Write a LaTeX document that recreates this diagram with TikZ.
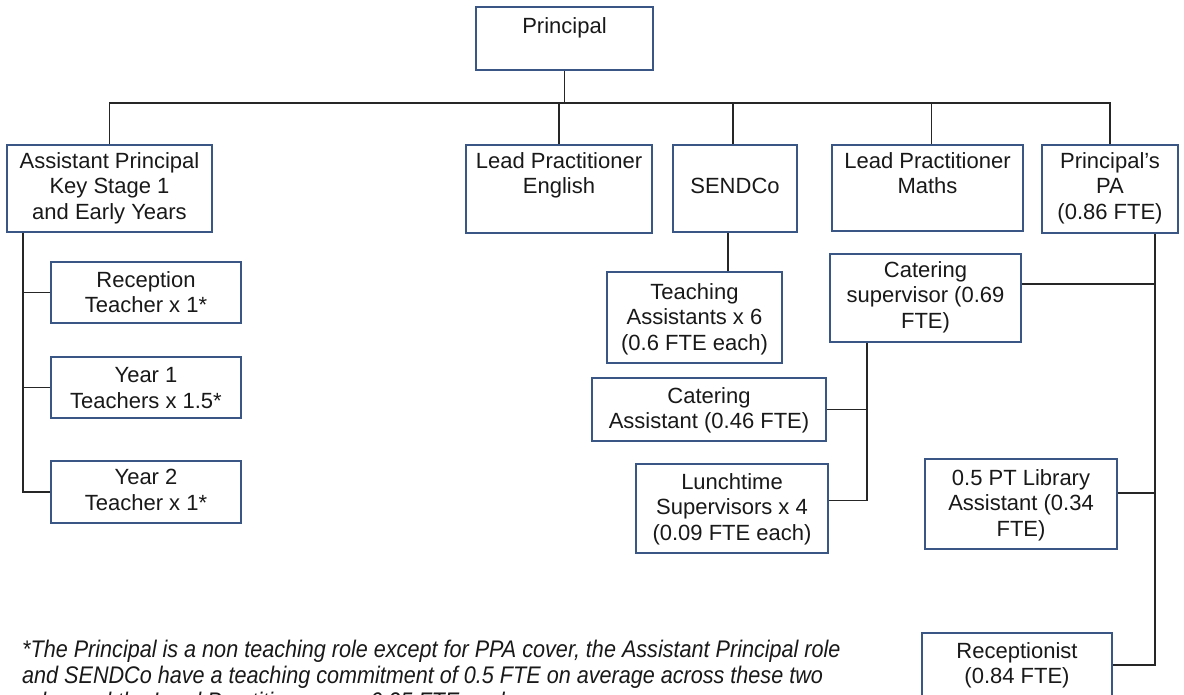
\documentclass[tikz,border=0pt]{standalone}
\usepackage{fontspec}
\setmainfont{Liberation Sans}
\newfontfamily\notefont[FakeStretch=0.9]{Liberation Sans}
\definecolor{boxblue}{RGB}{58,86,133}
\begin{document}
\begin{tikzpicture}[x=1pt,y=-1pt,
  box/.style={draw=boxblue, line width=1.6pt, fill=white, inner sep=0pt, rectangle},
  txt/.style={inner sep=0pt, align=center, font=\fontsize{22}{25.5}\selectfont, text=black!90},
  note/.style={inner sep=0pt, align=left, font=\notefont\itshape\fontsize{24}{26}\selectfont, text=black!90},
  wire/.style={line width=1.4pt, black!85}]
\clip (0,0) rectangle (1184,695);
\fill[white] (0,0) rectangle (1184,695);

% spine positions for the connector trees
\coordinate (bus) at (0,103);
\coordinate (lspine) at (23,0);
\coordinate (mspine) at (867,0);
\coordinate (rspine) at (1155,0);

% top level
\node[box, minimum width=177pt, minimum height=63pt,
  label={[txt,anchor=north,yshift=-11pt]north:Principal}] (principal) at (564.5,38.5) {};

% second row
\node[box, minimum width=205pt, minimum height=87pt,
  label={[txt,anchor=north,yshift=-8pt]north:{Assistant Principal\\Key Stage 1\\and Early Years}}] (ap) at (109.5,188.5) {};
\node[box, minimum width=186pt, minimum height=88pt,
  label={[txt,anchor=north,yshift=-8pt]north:{Lead Practitioner\\English}}] (lpe) at (559,189) {};
\node[box, minimum width=124pt, minimum height=87pt,
  label={[txt,anchor=north,yshift=-34pt]north:SENDCo}] (sendco) at (735,188.5) {};
\node[box, minimum width=191pt, minimum height=86pt,
  label={[txt,anchor=north,yshift=-8pt]north:{Lead Practitioner\\Maths}}] (lpm) at (927.5,188) {};
\node[box, minimum width=136pt, minimum height=88pt,
  label={[txt,anchor=north,yshift=-8pt]north:{Principal's\\PA\\(0.86 FTE)}}] (pa) at (1110,189) {};

% early years and key stage 1 teachers
\node[box, minimum width=190pt, minimum height=61pt,
  label={[txt,anchor=north,yshift=-10pt]north:{Reception\\Teacher x 1*}}] (rec) at (146,292.5) {};
\node[box, minimum width=190pt, minimum height=61pt,
  label={[txt,anchor=north,yshift=-11pt]north:{Year 1\\Teachers x 1.5*}}] (yr1) at (146,387.5) {};
\node[box, minimum width=190pt, minimum height=62pt,
  label={[txt,anchor=north,yshift=-9pt]north:{Year 2\\Teacher x 1*}}] (yr2) at (146,492) {};

% support staff
\node[box, minimum width=175pt, minimum height=91pt,
  label={[txt,anchor=north,yshift=-12pt]north:{Teaching\\Assistants x 6\\(0.6 FTE each)}}] (ta) at (694.5,317.5) {};
\node[box, minimum width=191pt, minimum height=88pt,
  label={[txt,anchor=north,yshift=-8pt]north:{Catering\\supervisor (0.69\\FTE)}}] (cs) at (925.5,298) {};
\node[box, minimum width=234pt, minimum height=63pt,
  label={[txt,anchor=north,yshift=-10pt]north:{Catering\\Assistant (0.46 FTE)}}] (ca) at (709,409.5) {};
\node[box, minimum width=192pt, minimum height=89pt,
  label={[txt,anchor=north,yshift=-10pt]north:{Lunchtime\\Supervisors x 4\\(0.09 FTE each)}}] (ls) at (732,508.5) {};
\node[box, minimum width=192pt, minimum height=90pt,
  label={[txt,anchor=north,yshift=-11pt]north:{0.5 PT Library\\Assistant (0.34\\FTE)}}] (lib) at (1021,504) {};
\node[box, minimum width=190pt, minimum height=64pt,
  label={[txt,anchor=north,yshift=-10pt]north:{Receptionist\\(0.84 FTE)}}] (recp) at (1017,665) {};

% principal to second row
\draw[wire] (principal.south) -- (principal.south |- bus);
\draw[wire] (ap.north) -- (ap.north |- bus) -- (pa.north |- bus) -- (pa.north);
\draw[wire] (lpe.north) -- (lpe.north |- bus);
\draw[wire] ([xshift=-2pt]sendco.north) -- ([xshift=-2pt]sendco.north |- bus);
\draw[wire] ([xshift=4pt]lpm.north) -- ([xshift=4pt]lpm.north |- bus);

% assistant principal to teachers
\draw[wire] (ap.south -| lspine) |- (yr2.west);
\draw[wire] (rec.west) -- (rec.west -| lspine);
\draw[wire] (yr1.west) -- (yr1.west -| lspine);

% SENDCo to teaching assistants
\draw[wire] ([xshift=-7pt]sendco.south) -- ([xshift=-7pt]sendco.south |- ta.north);

% catering supervisor to catering staff
\draw[wire] (cs.south -| mspine) |- ([yshift=8pt]ls.east);
\draw[wire] (ca.east) -- (ca.east -| mspine);

% principal's PA to office staff
\draw[wire] (pa.south -| rspine) |- (recp.east);
\draw[wire] ([yshift=14pt]cs.east) -- ([yshift=14pt]cs.east -| rspine);
\draw[wire] ([yshift=11pt]lib.east) -- ([yshift=11pt]lib.east -| rspine);

% footnote
\node[note, anchor=north west] (footnote) at (22,640) {*The Principal is a non teaching role except for PPA cover, the Assistant Principal role\\and SENDCo have a teaching commitment of 0.5 FTE on average across these two\\roles and the Lead Practitioners are 0.25 FTE each.};
\end{tikzpicture}
\end{document}
